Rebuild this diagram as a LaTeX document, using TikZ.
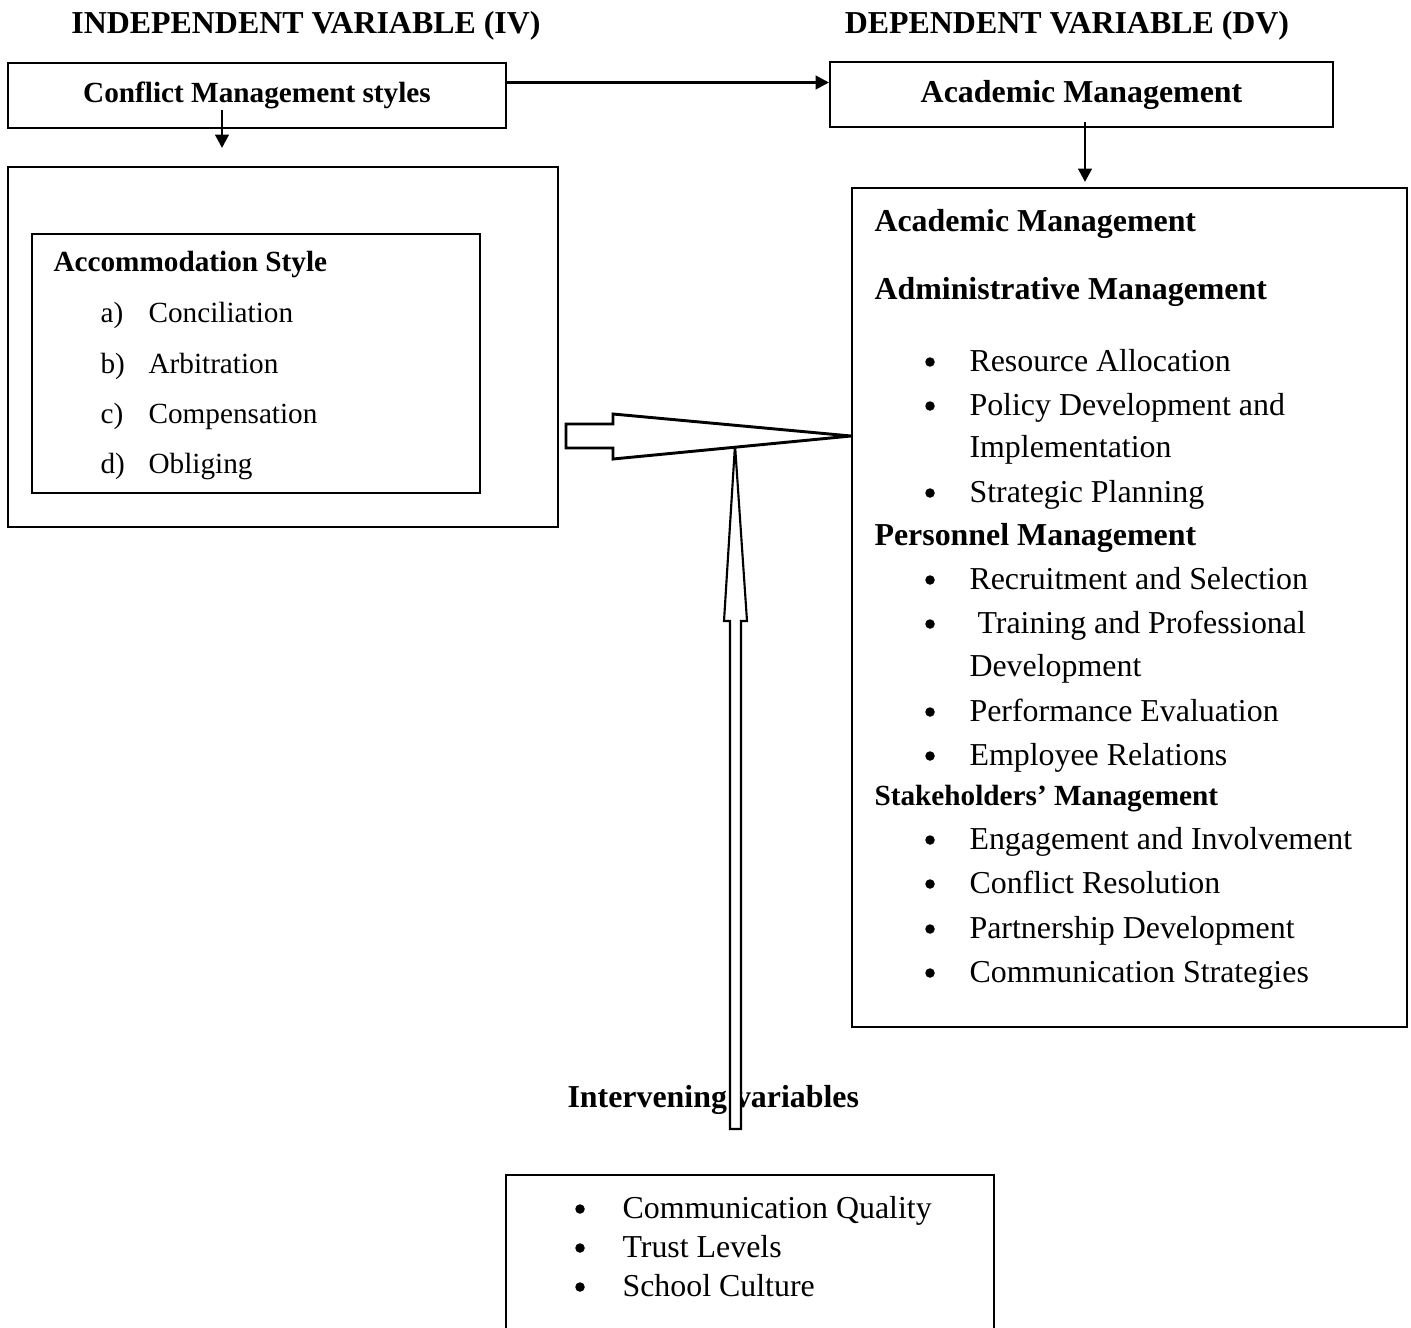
\documentclass[tikz,border=0pt]{standalone}
\usepackage{fontspec}
\setmainfont{Liberation Serif}
\usetikzlibrary{arrows.meta}
\newlength\pxu
\setlength\pxu{0.3762pt}
\tikzset{
  box/.style={draw, line width=0.75pt, inner sep=0pt},
  arr/.style={line width=1.1pt, -{Triangle[length=5pt,width=5pt]}},
  twelve/.style={font=\fontsize{12}{14}\selectfont, inner sep=0pt},
  eleven/.style={font=\fontsize{11}{13}\selectfont, inner sep=0pt},
  head/.style={font=\bfseries\fontsize{12}{14}\selectfont, inner sep=0pt},
  headsm/.style={font=\bfseries\fontsize{11}{13}\selectfont, inner sep=0pt},
  dot/.style={circle, fill, inner sep=0pt, minimum size=9.5\pxu},
  blockarrow/.style={line width=1.1pt, fill=white}
}
\begin{document}
\begin{tikzpicture}[x=\pxu,y=-\pxu]
    \useasboundingbox (0,0) rectangle (1411,1327);

    % titoli
    \node[head,anchor=base] (ivtitle) at (306,34) {INDEPENDENT VARIABLE (IV)};
    \node[head,anchor=base] (dvtitle) at (1067,34) {DEPENDENT VARIABLE (DV)};

    % riquadri in alto
    \node[box,headsm,minimum width=498\pxu,minimum height=65\pxu] (cms) at (257,95.5) {Conflict Management styles};
    \node[box,head,minimum width=503\pxu,minimum height=65\pxu] (am) at (1081.5,94.5) {Academic Management};
    \draw[arr] ([yshift=13\pxu]cms.east) -- ([yshift=12\pxu]am.west);

    \coordinate (c1) at (222,148);
    \coordinate (c2) at (1085,182);
    \draw[arr] (c1 |- cms.center) ++(0,14) -- (c1);
    \draw[arr] (c2 |- am.south) ++(0,-6) -- (c2);

    % variabile indipendente
    \node[box,minimum width=550\pxu,minimum height=360\pxu] (ivbox) at (283,347) {};
    \node[box,minimum width=448\pxu,minimum height=259\pxu] (accbox) at (256,363.5) {};
    \node[headsm,anchor=base west] (acc) at (53,271) {Accommodation Style};
    \foreach \l/\t/\y in {a)/Conciliation/322, b)/Arbitration/373, c)/Compensation/423, d)/Obliging/473}{
        \node[eleven,anchor=base west] (l\y) at (100,\y) {\l};
        \node[eleven,anchor=base west] (i\y) at (148,\y) {\t};
    }

    % variabile dipendente
    \node[box,minimum width=555\pxu,minimum height=839\pxu] (dvbox) at (1129.5,607.5) {};
    \node[head,anchor=base west] (h1) at (874,231) {Academic Management};
    \node[head,anchor=base west] (h2) at (874,299) {Administrative Management};
    \node[head,anchor=base west] (h3) at (874,545) {Personnel Management};
    \node[headsm,anchor=base west] (h4) at (874,805) {Stakeholders’ Management};
    \foreach \t/\y in {Resource Allocation/371, Policy Development and/415, Strategic Planning/502,
        Recruitment and Selection/589, {\ Training and Professional}/633, Performance Evaluation/721,
        Employee Relations/765, Engagement and Involvement/849, Conflict Resolution/893,
        Partnership Development/938, Communication Strategies/982}{
        \node[dot] (b\y) at (930,\y-9) {};
        \node[twelve,anchor=base west] (t\y) at (969,\y) {\t};
    }
    \node[twelve,anchor=base west] (t457) at (969,457) {Implementation};
    \node[twelve,anchor=base west] (t676) at (969,676) {Development};

    % variabili intervenienti
    \node[box,minimum width=488\pxu,minimum height=175\pxu] (intbox) at (750,1262.5) {};
    \foreach \t/\y in {Communication Quality/1218, Trust Levels/1257, School Culture/1296}{
        \node[dot] (ib\y) at (580,\y-9) {};
        \node[twelve,anchor=base west] (it\y) at (622,\y) {\t};
    }
    \node[head,anchor=base west] (intv) at (567,1107) {Intervening variables};

    % frecce a blocco
    \draw[blockarrow,line width=0.8pt] (735,445) -- (747,621) -- (741,621) -- (741,1129)
        -- (730,1129) -- (730,621) -- (724,621) -- cycle;
    \draw[blockarrow] (566,424) -- (613,424) -- (613,414) -- (dvbox.west |- 0,436)
        -- (613,459) -- (613,448) -- (566,448) -- cycle;
\end{tikzpicture}
\end{document}
